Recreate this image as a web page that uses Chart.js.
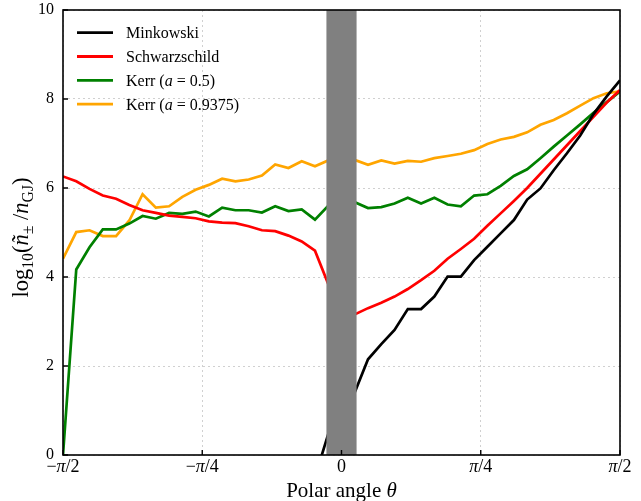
<!DOCTYPE html>
<html>
<head>
<meta charset="utf-8">
<script src="https://cdn.jsdelivr.net/npm/chart.js@4.4.1/dist/chart.umd.min.js"></script>
<style>
  body { margin: 0; background: #fff; }
  canvas { display: block; }
</style>
</head>
<body>
<canvas id="chart" width="641" height="501"></canvas>
<script>
// polar angle samples (rad), pi/42 apart
const theta = [
  -1.5708, -1.4960, -1.4212, -1.3464, -1.2716, -1.1968, -1.1220, -1.0472, -0.9724, -0.8976,
  -0.8228, -0.7480, -0.6732, -0.5984, -0.5236, -0.4488, -0.3740, -0.2992, -0.2244, -0.1496,
  -0.0748, 0, 0.0748, 0.1496, 0.2244, 0.2992, 0.3740, 0.4488, 0.5236, 0.5984,
  0.6732, 0.7480, 0.8228, 0.8976, 0.9724, 1.0472, 1.1220, 1.1968, 1.2716, 1.3464,
  1.4212, 1.4960, 1.5708
];

const minkowski = [
  null, null, null, null, null, null, null, null, null, null,
  null, null, null, null, null, null, null, null, null, -0.5,
  0.47, 0.95, 1.41, 2.15, 2.49, 2.81, 3.28, 3.28, 3.56, 4.01,
  4.01, 4.38, 4.68, 4.98, 5.28, 5.74, 5.99, 6.40, 6.78, 7.18,
  7.66, 8.06, 8.42
];
const schwarzschild = [
  6.26, 6.15, 5.98, 5.83, 5.76, 5.62, 5.50, 5.44, 5.38, 5.35,
  5.32, 5.25, 5.22, 5.21, 5.14, 5.05, 5.03, 4.93, 4.80, 4.59,
  3.84, 3.50, 3.16, 3.30, 3.42, 3.56, 3.73, 3.93, 4.14, 4.41,
  4.63, 4.86, 5.15, 5.43, 5.71, 6.00, 6.32, 6.64, 6.96, 7.28,
  7.60, 7.92, 8.20
];
const kerr05 = [
  0, 4.17, 4.67, 5.07, 5.07, 5.20, 5.37, 5.31, 5.44, 5.42,
  5.47, 5.36, 5.56, 5.50, 5.50, 5.45, 5.59, 5.48, 5.52, 5.29,
  5.60, 5.65, 5.68, 5.55, 5.57, 5.65, 5.78, 5.65, 5.78, 5.63,
  5.59, 5.83, 5.86, 6.05, 6.27, 6.42, 6.67, 6.93, 7.18, 7.43,
  7.69, 7.93, 8.17
];
const kerr09375 = [
  4.41, 5.01, 5.05, 4.92, 4.92, 5.27, 5.86, 5.56, 5.59, 5.80,
  5.96, 6.07, 6.21, 6.15, 6.19, 6.28, 6.53, 6.45, 6.60, 6.49,
  6.62, 6.62, 6.63, 6.52, 6.62, 6.55, 6.61, 6.59, 6.67, 6.72,
  6.77, 6.85, 6.99, 7.09, 7.15, 7.25, 7.42, 7.53, 7.68, 7.85,
  8.02, 8.13, 8.17
];

const seriesNames = ['Minkowski', 'Schwarzschild', 'Kerr ($a$ = 0.5)', 'Kerr ($a$ = 0.9375)'];
const seriesColors = ['#000000', '#ff0000', '#008000', '#ffa500'];

const xTickValues = [-Math.PI / 2, -Math.PI / 4, 0, Math.PI / 4, Math.PI / 2];
const xTickLabels = ['\u2212$\u03c0$/2', '\u2212$\u03c0$/4', '0', '$\u03c0$/4', '$\u03c0$/2'];
const xTitle = 'Polar angle $\u03b8$';
const yTitle = 'log_{10}($\u00f1$_{\u00b1} /$n$_{GJ})';

// excluded band around the equator
const bandFrom = -0.085;
const bandTo = 0.085;

const FONT = '"Liberation Serif", "DejaVu Serif", serif';

// tiny markup: $..$ italic, _{..} subscript
function parseRich(s) {
  const out = [];
  let italic = false, sub = false, buf = '';
  const flush = () => { if (buf) out.push({ t: buf, italic, sub }); buf = ''; };
  for (let i = 0; i < s.length; i++) {
    const c = s[i];
    if (c === '$') { flush(); italic = !italic; }
    else if (c === '_' && s[i + 1] === '{') { flush(); sub = true; i++; }
    else if (c === '}' && sub) { flush(); sub = false; }
    else buf += c;
  }
  flush();
  return out;
}
function partFont(p, size) {
  return (p.italic ? 'italic ' : '') + (p.sub ? size * 0.7 : size) + 'px ' + FONT;
}
function drawRich(ctx, text, x, y, size, align) {
  const parts = parseRich(text);
  let w = 0;
  parts.forEach(p => { ctx.font = partFont(p, size); w += ctx.measureText(p.t).width; });
  let cx = align === 'center' ? x - w / 2 : x;
  ctx.textAlign = 'left';
  ctx.textBaseline = 'alphabetic';
  parts.forEach(p => {
    ctx.font = partFont(p, size);
    ctx.fillText(p.t, cx, y + (p.sub ? size * 0.22 : 0));
    cx += ctx.measureText(p.t).width;
  });
}

const overlay = {
  id: 'overlay',
  afterDatasetsDraw(chart) {
    const { ctx, chartArea: a, scales: { x } } = chart;
    const l = x.getPixelForValue(bandFrom), r = x.getPixelForValue(bandTo);
    ctx.save();
    ctx.fillStyle = '#808080';
    ctx.fillRect(l, a.top, r - l, a.bottom - a.top);
    ctx.restore();
  },
  afterDraw(chart) {
    const { ctx, chartArea: a, scales: { x, y } } = chart;
    ctx.save();
    // frame
    ctx.strokeStyle = '#000';
    ctx.lineWidth = 1.6;
    ctx.strokeRect(a.left, a.top, a.right - a.left, a.bottom - a.top);
    // inward ticks
    ctx.lineWidth = 1.4;
    ctx.beginPath();
    xTickValues.forEach(v => {
      const px = x.getPixelForValue(v);
      ctx.moveTo(px, a.bottom); ctx.lineTo(px, a.bottom - 5);
    });
    y.ticks.forEach(t => {
      const py = y.getPixelForValue(t.value);
      ctx.moveTo(a.left, py); ctx.lineTo(a.left + 5, py);
    });
    ctx.stroke();
    // x tick labels
    ctx.fillStyle = '#000';
    xTickValues.forEach((v, i) => drawRich(ctx, xTickLabels[i], x.getPixelForValue(v), a.bottom + 17, 18, 'center'));
    // axis titles
    drawRich(ctx, xTitle, (a.left + a.right) / 2, 497, 21, 'center');
    ctx.save();
    ctx.translate(28, (a.top + a.bottom) / 2 + 5);
    ctx.rotate(-Math.PI / 2);
    drawRich(ctx, yTitle, 0, 0, 22.5, 'center');
    ctx.restore();
    // legend
    chart.data.datasets.forEach((ds, i) => {
      const ry = a.top + 22.7 + i * 23.8;
      ctx.strokeStyle = ds.borderColor;
      ctx.lineWidth = 2.8;
      ctx.beginPath();
      ctx.moveTo(a.left + 14, ry); ctx.lineTo(a.left + 50, ry);
      ctx.stroke();
      drawRich(ctx, ds.label, a.left + 63, ry + 5.5, 16, 'left');
    });
    ctx.restore();
  }
};

const series = [minkowski, schwarzschild, kerr05, kerr09375];

new Chart(document.getElementById('chart'), {
  type: 'line',
  data: {
    datasets: series.map((vals, i) => ({
      label: seriesNames[i],
      data: theta.map((t, k) => ({ x: t, y: vals[k] })),
      borderColor: seriesColors[i],
      backgroundColor: seriesColors[i],
      borderWidth: 2.7,
      pointRadius: 0,
      tension: 0,
      fill: false
    }))
  },
  options: {
    responsive: false,
    animation: false,
    devicePixelRatio: 1,
    layout: { padding: { top: 10, right: 21, left: 0, bottom: 0 } },
    plugins: { legend: { display: false }, tooltip: { enabled: false } },
    scales: {
      x: {
        type: 'linear',
        min: -Math.PI / 2,
        max: Math.PI / 2,
        afterBuildTicks: s => { s.ticks = xTickValues.map(v => ({ value: v })); },
        afterFit: s => { s.height = 46; s.paddingLeft = 0; s.paddingRight = 0; },
        ticks: { display: false },
        grid: { color: '#d0d0d0', lineWidth: 1, drawTicks: false },
        border: { display: false, dash: [2, 3] }
      },
      y: {
        min: 0,
        max: 10,
        afterFit: s => { s.width = 63; s.paddingTop = 0; s.paddingBottom = 0; },
        ticks: { stepSize: 2, padding: 9, color: '#000', font: { family: FONT, size: 16 } },
        grid: { color: '#d0d0d0', lineWidth: 1, drawTicks: false },
        border: { display: false, dash: [2, 3] }
      }
    }
  },
  plugins: [overlay]
});
</script>
</body>
</html>
